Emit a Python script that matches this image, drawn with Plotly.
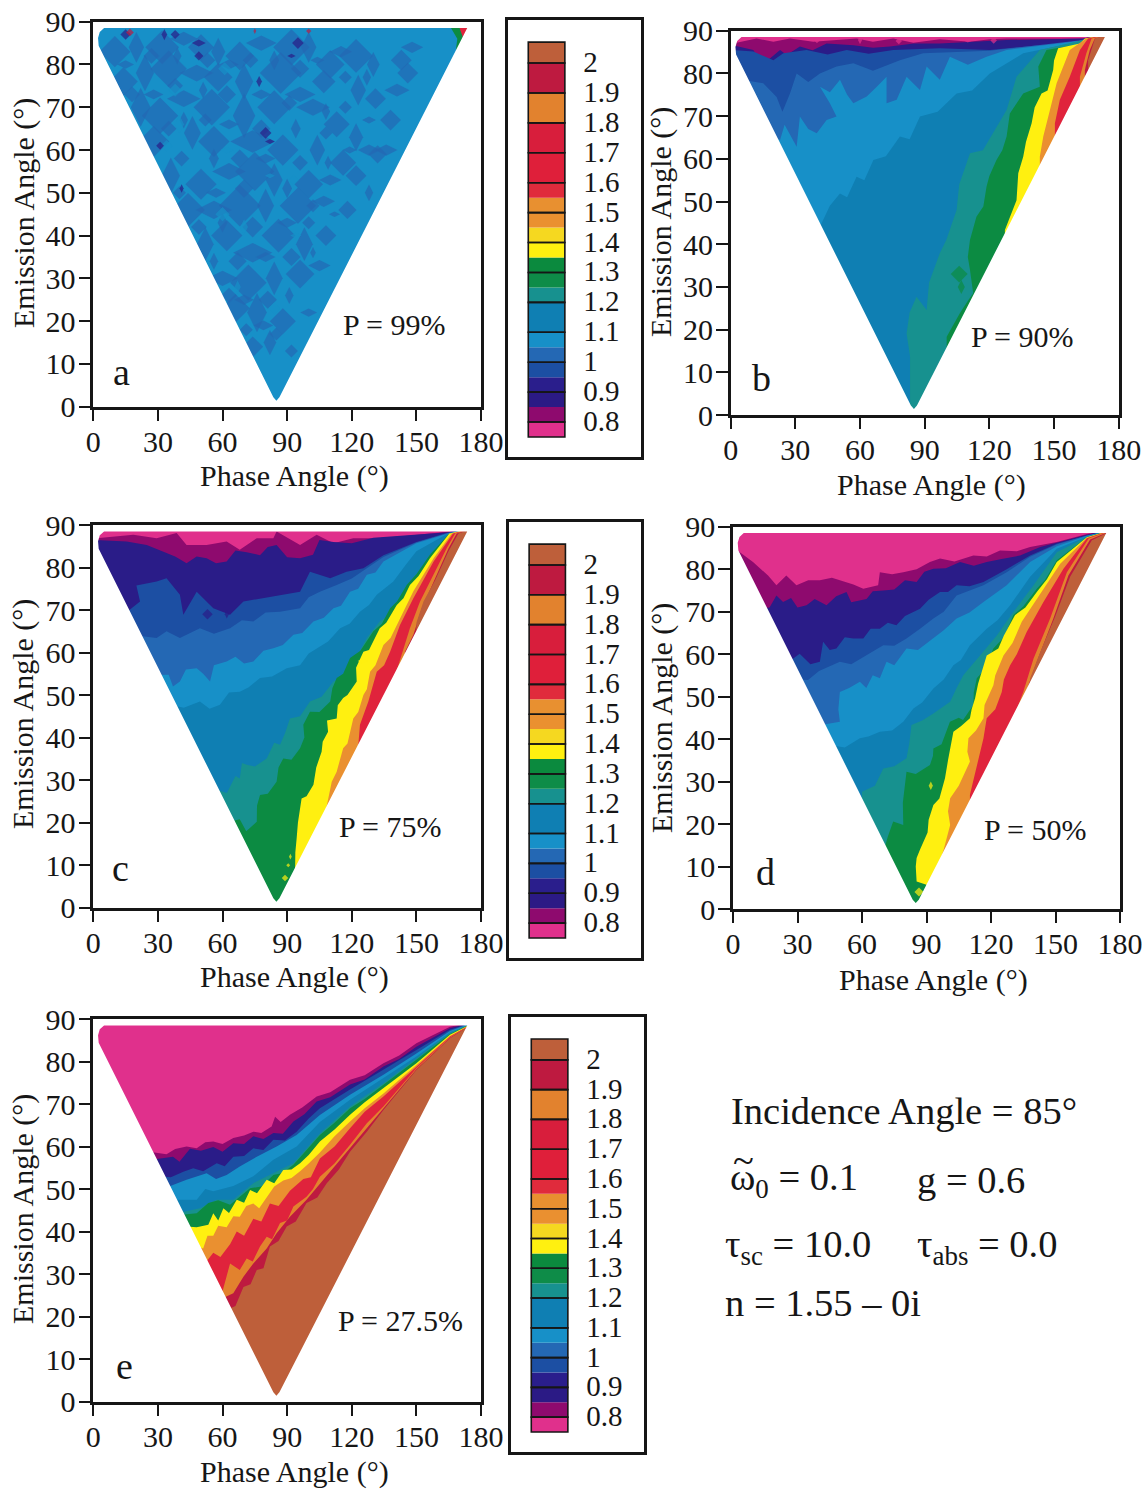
import plotly.graph_objects as go

W, H = 1144, 1489
FONT = "Liberation Serif"
INK = "#161616"

# ---------- colour key ----------
KEY_BOTTOMS = [0.75,0.8,0.85,0.9,0.95,1.0,1.05,1.1,1.2,1.25,1.3,1.35,1.4,1.45,1.5,1.55,1.6,1.7,1.8,1.9,2.0]
KEY_TOPS = [0.8,0.85,0.9,0.95,1.0,1.05,1.1,1.2,1.25,1.3,1.35,1.4,1.45,1.5,1.55,1.6,1.7,1.8,1.9,2.0,2.07]
KEY_COLOURS = ["#E0308C","#8E0A6E","#2B1A85","#2A1E8C","#1C4FA3","#2468B4","#1790C8","#0F7FB3","#17918F",
               "#0E8C48","#0B8A3E","#FFF010","#F5D820","#EA9030","#E89030","#E02B3C","#DF1F3A","#D81E3C",
               "#E2822E","#BE1A40","#BE5F3A"]
KEY_GROUP_EDGES = [0.75,0.8,0.9,1.0,1.1,1.2,1.3,1.4,1.5,1.6,1.7,1.8,1.9,2.0,2.07]
KEY_LABEL_VALUES = [0.8,0.9,1.0,1.1,1.2,1.3,1.4,1.5,1.6,1.7,1.8,1.9,2.0]
KEY_LABELS = ["0.8","0.9","1","1.1","1.2","1.3","1.4","1.5","1.6","1.7","1.8","1.9","2"]

COL = dict(magenta="#E0308C", purple="#8E0A6E", navy="#2A1C88", deep="#1C4FA3", blue="#2468B4", bright="#1790C8",
           mid="#0F7FB3", teal="#17918F", green="#0C8B42", yellow="#FFF010", gold="#F5D820", orange="#EA9030",
           red="#E0233C", orange2="#E2822E", crimson="#BE1A40", brown="#BE5F3A")

X_TICKS = [0,30,60,90,120,150,180]
Y_TICKS = [0,10,20,30,40,50,60,70,80,90]

# outline of the measured region (phase, emission)
TRI_PHASE = [85,83.6,2.5,2.2,3,5,173.6,86.4,85]
TRI_EMIS = [1.4,2.2,84.4,86.2,87.6,88.5,88.5,2.2,1.4]

# ---------- panel a: P = 99% ----------
A_BANDS = [
 ("green",[(168.5,84),(169,86),(166,88.6)]),
 ("red",[(171.5,86.5),(170,88.6)]),
]
A_BLUE_BLOBS = [
 (10,83,24),(20,84,22),(32,84,26),(42,86,20),(50,84,20),(58,83,20),(68,82,22),(78,85,22),(92,84,28),(100,84,22),
 (110,80,22),(115,83,16),(122,82,26),(130,80,18),(143,81,16),(148,84,16),
 (14,76,22),(24,78,26),(35,79,28),(48,78,24),(58,77,22),(70,76,26),(87,78,32),(96,73,22),(107,76,18),(123,74,22),
 (131,72,16),(141,74,18),(146,78,16),
 (22,70,28),(31,68,28),(42,72,24),(55,70,28),(70,68,32),(84,70,26),(102,70,24),(113,66,20),(122,63,20),(138,67,16),(136,60,16),
 (28,62,24),(46,64,24),(56,62,24),(74,62,32),(88,60,24),(104,60,22),(116,57,20),(128,60,16),(132,59,14),
 (36,54,26),(50,52,24),(63,55,24),(75,55,30),(84,53,24),(100,52,22),(110,53,16),(122,54,16),(128,50,12),
 (44,46,26),(56,46,26),(68,47,32),(80,47,24),(95,47,28),(107,48,16),(118,46,14),
 (52,38,24),(62,40,24),(74,36,28),(86,40,26),(98,38,24),(108,40,16),
 (60,30,22),(72,29,28),(84,30,24),(96,31,22),(105,33,16),
 (66,23,22),(76,22,28),(88,20,20),(100,22,12),
 (74,14,16),(82,15,18),(92,13,10),
 # finer mottling that roughens the larger patches
 (15,80,12),(27,82,12),(39,82,12),(53,81,12),(63,80,14),(73,81,12),(84,81,14),(96,79,14),(104,81,10),(117,77,10),(127,77,12),
 (18,73,12),(28,73,14),(38,75,12),(51,74,12),(62,73,14),(78,73,14),(91,71,12),(108,69,12),(117,70,10),(128,67,10),
 (35,65,12),(42,67,12),(52,67,10),(63,66,14),(78,65,14),(94,65,14),(108,64,10),(119,60,10),
 (41,58,12),(56,58,14),(68,58,14),(80,58,14),(96,57,12),(109,57,10),
 (40,50,10),(57,50,14),(70,51,14),(90,51,14),(102,47,10),(112,45,8),
 (49,42,12),(60,43,14),(74,42,16),(90,43,14),(100,43,10),
 (56,34,12),(67,34,14),(80,35,14),(92,35,14),(102,36,8),
 (63,26,12),(70,25,14),(81,25,14),(91,26,12),
 (71,18,10),(79,19,14),(85,17,10),
]
A_BRIGHT_BLOBS = [(38,74,10),(40,66,13),(34,61,9),(62,60,9),(60,45,11),(70,42,11),(61,79,10),(82,54,7),(93,53,8),(67,28,9),(84,23,9),(94,40,8)]
A_NAVY_BLOBS = [(15,87,8),(33,87,8),(38,87,7),(49,85,10),(49,82,7),(77,76,8),(80,64,9),(82,62,7),(31,61,6),(41,51,6),(95,85,9),(92,82,6)]
A_CRIMSON_BLOBS = [(17,87.5,6),(75,87.8,4),(100,87.8,4)]

# ---------- panel b: P = 90% ----------
B_BANDS = [
 ("purple",[(1,87),(12,88.2),(19.8,87.4),(27.5,88.2),(38.3,87.4),(50.7,87.8),(58.4,88.2),(66,87.4),(75.4,88.2),(84.7,87.2),(97,88),(111,87.4),(120,88),(128,88.2),(163.5,88.2)]),
 ("navy",[(1,86.6),(10.5,85.5),(14,82.6),(18.2,83.5),(22.9,85.5),(26,84.3),(32.1,86.3),(38,85.4),(44.5,87),(56.9,86.6),(66,86),(73.9,86.3),(85,87),(97,87),(128,87.8),(163.5,88.2)]),
 ("deep",[(1,85.5),(10.5,85.1),(19.8,83.1),(24.4,84.7),(35.2,85.5),(45,84.4),(53.8,85.5),(64,84.6),(75.4,85.5),(97,85.9),(120.2,85.5),(143.4,86.6),(158.9,87),(163.5,88)]),
 ("blue",[(5,78.5),(15.1,77.7),(21.3,74.5),(24,71),(27.5,75.3),(30.6,80),(36,78),(41.4,80),(49.1,81.6),(56.9,82.4),(66,80.6),(78.5,83.1),(89.3,84.7),(120.2,85.3),(163.5,87.8)]),
 ("bright",[(17,66),(22.9,64.4),(25,68),(30.6,62.8),(32.1,69.9),(36,67),(39.9,66),(44.5,69.1),(49.1,69.9),(46,73),(41.4,76.9),(46,75.6),(50.7,78.5),(54,75),(56.9,73),(63.1,74.6),(68,77),(72.3,79.2),(72.3,73),(77,73.8),(81.6,79.2),(87.8,76.1),(90.9,81.6),(97,78.5),(101.7,83.9),(110,82),(118.7,83.9),(128,85.5),(163.5,87.7)]),
 ("mid",[(38,45),(41.4,44.1),(46,49),(50.7,51.9),(54,51),(58.4,55.8),(62,55),(66.2,59.7),(72,60.6),(78.5,65.2),(83,64.6),(87.8,69.9),(96,71),(104.8,75.3),(112,76),(120.2,80),(135.7,84.7),(163.5,87.6)]),
 ("teal",[(83.2,1),(83.2,13.7),(81.6,19.1),(83,24),(86.2,27.7),(90.9,24.6),(92,31),(97,37.9),(100,41),(104.8,48),(106,54),(111,61.3),(117,62),(123.3,67.5),(128,71.4),(132.6,79.2),(143.4,85.5),(163.5,87.8)]),
 ("green",[(100.2,18.3),(106.3,23.8),(110.2,26.9),(112.5,28.5),(111,34),(110,37),(111,41),(114,46.4),(117.2,48.8),(118.7,53.5),(120,56),(123.3,59.7),(126,62),(128,65.2),(129.5,70.6),(135.7,75.3),(143.4,76.9),(142.7,81.6),(146.5,85.5),(163.5,87)]),
 ("yellow",[(127.2,43.3),(129.5,46.4),(132.6,50.3),(133.4,56.6),(135.7,60.5),(137,64),(139.6,68.3),(141,72),(144.2,75.3),(147,76),(149.6,80.8),(150,83),(151.9,85.9),(162,87),(164.3,88.2)]),
 ("orange",[(143.4,60.5),(145,65.2),(148.1,71.4),(151.2,77.7),(157.3,85.5),(165,88.2)]),
 ("red",[(150.4,68.3),(152.7,73.8),(157.3,79.2),(162,85.5),(165.8,88.2)]),
 ("orange2",[(162,79.2),(165,84.7),(167.4,88.2)]),
 ("crimson",[(164.3,80.8),(166.6,85.5),(168.9,88.2)]),
 ("brown",[(165.8,83.1),(169,88.2)]),
]
B_GREEN_BLOBS = [(106,33,13),(107,30,10)]
B_MAGENTA_BLOBS = [(40,87.8,5),(60,87.8,6),(78,87.6,5),(110,87.7,6),(122,87.7,5)]

# ---------- panel c: P = 75% ----------
C_BANDS = [
 ("purple",[(1.5,86.9),(10.8,87.3),(18.6,87.7),(29.4,86.9),(38.7,88.1),(43.3,85.3),(52.6,85.3),(61.9,86.1),(68,84.2),(75.9,86.9),(83.6,86.9),(85.1,88.5),(96,85.3),(103.7,87.7),(111.5,85.7),(120.7,86.9),(131.6,86.9),(142.4,87.3),(158,88.1),(165.6,88.5)]),
 ("navy",[(1,86.5),(15.5,86.1),(24.8,85.3),(34,83.4),(38,82.6),(43.3,81),(48,82.6),(52.6,82.2),(57,81),(61.9,81.4),(66,84),(71.2,83.6),(77.4,82.9),(81,84.8),(85.1,85.3),(90,82.4),(96,82.2),(102,83),(105,86.5),(111.5,86),(120,85.7),(130,87),(158,88),(165,88.3)]),
 ("deep",[(15,69.3),(21.7,72),(20,75.8),(29.4,76.7),(34,77.5),(40.2,73.6),(41.8,68.9),(48,74.3),(55.7,70.4),(63.5,68.9),(69.7,72),(79,72.8),(86.7,73.6),(96,74.3),(100.6,79),(110,77.5),(117.6,79),(125.4,79.8),(134.7,82.9),(150,86),(164,88.1)]),
 ("blue",[(20,64),(29.4,63.4),(34,65),(40.2,63.4),(49.5,65.7),(56,64.4),(63.5,65.7),(69,67.6),(74.3,67.3),(80,69.4),(86.7,69.6),(96,70.4),(100,73),(105.2,74.3),(113,75.9),(120,77.4),(127,79.8),(134.7,82.5),(150,85.9),(164,88)]),
 ("bright",[(29,54.7),(35,54.8),(37,52),(40.2,53.2),(43,56),(48,56.3),(51,55),(54.2,53.2),(56,57),(61.9,57.9),(66,59),(70,57.4),(74.3,57.9),(79,60.4),(83.6,61),(88,61.8),(92.9,64.2),(97,64.6),(102.2,67.3),(107,68.2),(111.5,70.4),(115,71),(119.2,74.3),(123,75),(127,78.3),(131,78.8),(134.7,81.4),(150,85.7),(164,87.9)]),
 ("mid",[(36,47.7),(42,47),(49.5,48.5),(54,46.8),(58.8,47.7),(63,50.6),(68,50.8),(72,51.8),(77.4,54),(83,54.4),(89.8,56.3),(96,57),(100,59.8),(103.7,61),(109,62.6),(114.6,65.7),(119,66.8),(123.8,69.6),(128,71.2),(131.6,73.6),(139.3,76.7),(145,80.6),(150,83.8),(164,87.8)]),
 ("teal",[(55,28.1),(62,27),(66,31),(68,30.4),(69,34),(71.2,33.6),(75,33.2),(80.5,35.1),(84,38.8),(86.7,38.3),(89,41),(91.3,44.5),(96,45),(100.6,48.5),(106,49.6),(111.5,53.2),(115,54),(119.2,57.9),(123,59.6),(127,63.4),(133,67.3),(138,69),(142.4,72.8),(148,76.4),(154.8,81.4),(164.9,87.8)]),
 ("green",[(63,20.2),(68,20.8),(71,18),(75.9,20.2),(76,24),(77.4,26.5),(81,26.8),(85.1,29.6),(86,33),(88.2,35.1),(92,34.8),(96,37.5),(98,40),(97.5,43),(100.6,46.1),(105,46),(110,48.5),(111,51.6),(113,54),(116,55),(119.2,58.7),(124,60.4),(130,65),(134,66.8),(137.8,70.4),(141,72),(145.5,75.9),(150,78.4),(156.3,83),(164.9,87.8)]),
 ("yellow",[(93.7,9.3),(93.8,13),(94.4,16.3),(95,20),(96.7,25.7),(99,26.2),(102.2,28.9),(103.5,33),(106,36.7),(106.5,39),(109,41.4),(108.5,44),(113,44.5),(113.5,47.6),(116,49.3),(118,50),(122.3,53.2),(122,56.4),(125.4,60.2),(128,60.6),(133,65.7),(136,67),(140.9,71.2),(144,72.8),(147,75.9),(151,78),(156.3,82.2),(165.3,88)]),
 ("orange",[(108,23),(110.7,29.6),(113,32),(116,37.5),(118,38.6),(120.7,44.5),(123,46),(125.4,50),(127,51.4),(128.5,55.5),(131,57),(134.7,61.8),(138,63.4),(142.4,68),(148.6,74.4),(158,82.2),(166.4,88)]),
 ("red",[(123,38),(123.8,43),(127.7,48.5),(129,51),(131.6,55.5),(135,57),(137.8,60.2),(142.4,66.5),(148.6,72.8),(158,81.4),(167,88)]),
 ("orange2",[(141,56),(147,65.7),(151.7,72),(158,78.3),(164,84.5),(168,88)]),
 ("crimson",[(144.7,60.2),(148.6,64.2),(152.5,70.4),(158.7,77.5),(164.9,84.5),(168.7,88)]),
 ("brown",[(150,67),(153.3,72),(158.7,77),(164.9,83.8),(169.5,88)]),
]
C_YELLOW_BLOBS = [(89,7,5),(91.5,12,4),(90.5,10,3),(125,58,7)]
C_NAVY_BLOBS = [(53,69,8),(62,69,6)]

# ---------- panel d: P = 50% ----------
D_BANDS = [
 ("purple",[(1,84.8),(9.3,81.7),(16.3,78.5),(20.2,76.2),(24.8,78.5),(29.5,76.2),(35,77.4),(40.4,77.4),(46,78),(52.8,77),(56,76.4),(60.6,75.4),(67.5,76.2),(68.3,79.3),(74,78.8),(79.2,79.3),(85.4,80),(91.6,81.7),(96.3,82.5),(103,81.8),(111.8,83.2),(118,83),(124.2,84.4),(132,84.2),(138.2,85.2),(150.6,86.4),(164.6,88.3)]),
 ("navy",[(13,70.7),(17,71),(20.2,73.8),(23.3,72.3),(27,73.2),(30,71),(34.2,71.5),(38,73),(43.5,71.5),(48,73.6),(52.8,74.6),(55,72.2),(62.1,73),(65,74.8),(69.9,75),(75,75.2),(80,77.4),(85.4,77),(89,79.4),(93.2,80.1),(99,80.2),(105.6,81.7),(112,80.8),(118,81.7),(125,82.4),(133.5,83.2),(142.9,85.2),(164.6,88.1)]),
 ("deep",[(26,58.2),(31,60.1),(36,57.6),(40.4,58.2),(41.9,62.9),(45,61),(48.1,61.3),(52,64),(55.9,63.7),(60.6,63.7),(64,66),(68.3,66),(72,67.4),(76,66.8),(80,69),(87,70.7),(91,72.8),(96.3,74.6),(100,74.6),(104,76.2),(110,76),(116.5,77),(127.3,80),(138.2,83.2),(150.6,86),(164.6,87.9)]),
 ("blue",[(30,54),(34.9,53.9),(40,56),(49.7,58.2),(55,57.6),(62.1,59.7),(69.9,62.1),(75,62),(80.7,63.7),(87,66),(93.2,68.4),(98,70),(104,73.8),(116.5,76.2),(127.3,79.3),(138.2,82.9),(150.6,85.8),(164.6,87.9)]),
 ("bright",[(41,43.3),(49.7,44.1),(49,47),(49.7,51.1),(54,52),(59,53.5),(62,52),(65,55),(68.3,54.3),(71.4,58.2),(75,57.4),(80.7,61.3),(86,61),(93.2,63.7),(98,65.6),(104,68.4),(110,69.8),(116.5,72.3),(127.3,76.2),(138.2,81.7),(150.6,85.4),(164.6,87.8)]),
 ("mid",[(45,38.6),(52,38),(59,40.2),(63,40.6),(68.3,41.7),(74,42),(79.2,44.1),(83.9,47.2),(88,48.6),(93.2,51.9),(98,54),(102.5,57.4),(106,58.6),(110.2,62.1),(118,66),(123,68),(128.9,71.5),(138.2,78.2),(150.6,84.8),(164.6,87.7)]),
 ("teal",[(60,27.6),(66,29),(69.9,33.1),(75,33.6),(80.7,35.5),(82,39),(83,43.3),(88,44.4),(93.2,46),(101,48.8),(104,52),(107.1,55),(114.9,59.7),(122.7,64.4),(130.4,69.9),(139.8,76.2),(150.6,84),(164.6,87.6)]),
 ("green",[(70,13.5),(72,17),(74.5,20.6),(79.2,19.8),(79,25),(80.7,32.3),(85,31.8),(91.6,33.9),(93,36),(93.2,37.8),(97,38.8),(100.9,44.1),(105,45),(107,44.5),(111.8,48),(112,51),(113.4,54.3),(117,56.4),(121.1,61.3),(126,64),(130.4,69.2),(135,71.2),(141.3,75.4),(145,77.4),(150.6,82.1),(164.6,87.5)]),
 ("yellow",[(90,5.7),(85.4,6.5),(85,10),(85.4,12),(87,14),(88.5,15.9),(90.5,18),(91,21),(93.2,24.5),(96,26),(98.6,30.8),(100,35),(102.5,41.7),(106,43),(110.2,44.9),(111,47),(112.6,49.6),(114,53),(118,59.7),(123.4,61.3),(126,64.4),(131.2,69.2),(136,71),(141.3,74.6),(146,77.6),(150.6,81.7),(164.6,87.5)]),
 ("orange",[(94.7,8.8),(98,14),(101,19.8),(100,23),(101,26.1),(105,29),(110.2,34.7),(109,37),(109.5,40.2),(113,42),(116.5,44.9),(117,48),(121.1,52.7),(122,55),(125.8,59.7),(130,62.6),(134.3,67.6),(142.9,74.2),(152.2,81.3),(164.6,87.4)]),
 ("red",[(110.2,26.9),(113.4,33.9),(116.5,40.2),(118,44.9),(122,47),(125,51.1),(126,54),(128.9,57.4),(132,60),(136.6,65.2),(144.4,72.3),(153.7,80.1),(164.6,87.3)]),
 ("orange2",[(130.4,44.9),(135,51.1),(139.8,59),(147.5,68.4),(155.3,79.3),(165.4,87.2)]),
 ("crimson",[(133.5,47.2),(137.4,52.7),(141.3,58.2),(149,68.4),(156,78.5),(166.1,87)]),
 ("brown",[(138.2,54.3),(142.9,60.5),(149.8,68.8),(156.8,78.2),(166.9,86.8)]),
]
D_YELLOW_BLOBS = [(86.5,4,7),(92,29,6)]

# ---------- panel e: P = 27.5% ----------
E_BANDS = [
 ("purple",[(26,58.8),(34,58.2),(38,59.4),(43.3,60),(48,59.6),(52,61),(55.7,61.2),(60,60.6),(65,62),(70,62.6),(74.3,63.5),(78,63.2),(82.8,64.7),(84.4,67),(87,65.8),(91.3,67.5),(97,69.2),(103.7,71.8),(110,72.8),(119.2,75.7),(126,76.8),(134.7,79.6),(142,81.4),(150,84.3),(165.6,88.2)]),
 ("navy",[(27,56.9),(37,57.6),(40,56.4),(44.9,59.5),(50,59),(55.7,59.9),(60,58.8),(65,60.8),(70,60.6),(74.3,62.4),(79,61.8),(83.6,63.2),(88,63),(92.9,65.9),(98,67.6),(103.7,70.6),(110,71.6),(119.2,74.6),(126,75.8),(134.7,78.8),(142,80.6),(150,83.5),(165.6,87.8)]),
 ("deep",[(30,53),(36,52.8),(41.8,54.1),(46.4,54.9),(51,54.2),(57.3,56.1),(61,55.4),(65,57.6),(70,57.8),(74.3,59.6),(79,59.2),(83.6,61.6),(89,61.4),(94.4,63.5),(100,66.6),(105.2,69),(119.2,73.4),(134.7,78),(150,82.7),(165.6,87.5)]),
 ("bright",[(33,50.2),(43.3,52.2),(52.6,53.7),(57,52.4),(61.9,53.3),(68,55.3),(75.9,57.6),(85.1,60),(94.4,62.7),(105.2,67.4),(119.2,72.2),(134.7,76.9),(150,81.9),(165.6,87.2)]),
 ("mid",[(36,47.5),(48,47.5),(52,50),(55.7,49.5),(65,50.7),(74.3,53),(83.6,56.9),(94.4,60),(105.2,65.8),(119.2,71),(134.7,76.1),(150,81.2),(165.6,86.9)]),
 ("teal",[(39,44.3),(49.5,45.5),(57.3,47.5),(65,47.5),(74.3,51.4),(83.6,53.7),(92.9,56.1),(105.2,63.1),(119.2,69.4),(134.7,74.9),(150,80.8),(165.6,86.7)]),
 ("green",[(40,43.9),(48,44.3),(53.4,46.7),(58,47.4),(63.5,46.3),(68,48.2),(72.8,50.2),(78,50.6),(83.6,53.3),(88,53.8),(92.9,55.7),(98,58.6),(105.2,62.7),(112,65.6),(119.2,69),(126,71.2),(134.7,74.5),(142,77.4),(150,80.4),(165.6,86.5)]),
 ("yellow",[(43,41.2),(48,41),(53.4,41.6),(55.7,44.3),(58,42.6),(60.4,45.5),(63,44.4),(66.6,47.5),(70,46.8),(72.8,49.8),(76,49),(80.5,52.2),(84,51.4),(88.2,54.5),(92,54.6),(96,56.1),(100,58),(105.2,61.2),(112,64),(119.2,67.5),(126,70.4),(134.7,73.7),(142,76.6),(150,79.6),(165.6,86.3)]),
 ("orange",[(46,37),(51,36),(53,39),(55.7,39),(58,41.4),(61.9,41),(65,43.6),(68,43.5),(71,46),(74.3,46.6),(77,45.5),(80.5,48),(84,50.6),(88.2,52),(92,52.6),(96,54.2),(100,56),(105.2,58.6),(112,62.4),(119.2,65.9),(126,69),(134.7,72.5),(150,79.2),(165.6,86)]),
 ("red",[(49,33.6),(52,32.6),(55.7,35),(59,34),(63.5,37),(66.6,40),(70,39),(74.3,43),(78,42.4),(82,46.6),(86,46),(91.3,49.6),(97.5,52.4),(101,52.8),(105.2,57.2),(112,60),(119.2,64.3),(126,68.2),(134.7,71.8),(150,78.8),(165.6,85.9)]),
 ("orange2",[(56,27.8),(60,26),(63.5,32.5),(68,31),(71.2,33.7),(74,33),(77.4,36.5),(80.5,38.8),(83,38.2),(86.7,42),(90,42.6),(92.9,45.9),(99,48.2),(102,50),(105.2,52.9),(112,56),(119.2,60.4),(127,65.5),(134.7,69.4),(150,78.4),(165.6,85.7)]),
 ("crimson",[(60,24.3),(65,25.5),(69.7,29.4),(74.3,32.5),(80.5,36),(85.1,39.6),(91.3,43.5),(99,47.5),(106.8,52.2),(119.2,59.6),(127,64.3),(134.7,69),(150,78.2),(165.6,85.6)]),
 ("brown",[(62,21.6),(66,22.5),(69.7,27),(73,27.6),(75.9,31),(79,31.4),(82,36.5),(86,37.8),(89.8,41.2),(94,42.4),(99,46.7),(104,48),(108.4,51.4),(114,54.6),(119.2,58.8),(127,63.5),(134.7,68.6),(150,78),(165.6,85.5)]),
]

# panel frames in page pixels: left, right, top, bottom
FRAMES = dict(a=(93.3,481,21.7,406.7), b=(730.7,1118.7,30.7,415), c=(93.3,481,525,907.7),
              d=(733,1120,526.7,909), e=(93.3,481,1019,1401.7))
KEY_FRAMES = dict(a=(508,641,20,457), c=(509,641,522,958), e=(511,644,1017,1452))
P_LABELS = dict(a=("P = 99%",139.8,19.3), b=("P = 90%",135,18.5), c=("P = 75%",137.8,19),
                d=("P = 50%",140.5,18.6), e=("P = 27.5%",142.5,19.2))
LETTERS = dict(a=(13.3,8), b=(14.5,8.6), c=(12.4,9.4), d=(14.9,8.7), e=(14.3,8.4))
X_TITLE_AT = dict(a=(294,476), b=(931,485), c=(294,977), d=(933,980), e=(294,1472))
Y_TITLE_AT = dict(a=(24,213), b=(661,222), c=(23,714), d=(662,718), e=(23,1209))

BANDS = dict(a=A_BANDS, b=B_BANDS, c=C_BANDS, d=D_BANDS, e=E_BANDS)
BASE = dict(a="bright", b="magenta", c="magenta", d="magenta", e="magenta")
BLOBS = dict(
    a=[("blue",A_BLUE_BLOBS),("bright",A_BRIGHT_BLOBS),("navy",A_NAVY_BLOBS),("crimson",A_CRIMSON_BLOBS)],
    b=[("green",B_GREEN_BLOBS),("magenta",B_MAGENTA_BLOBS)],
    c=[("yellow",C_YELLOW_BLOBS),("navy",C_NAVY_BLOBS)],
    d=[("yellow",D_YELLOW_BLOBS)],
    e=[],
)
BLOB_SYMBOLS = ["diamond","diamond-tall","diamond","diamond-wide"]

fig = go.Figure()
layout = dict(width=W, height=H, margin=dict(l=0,r=0,t=0,b=0,autoexpand=False), paper_bgcolor="white", plot_bgcolor="white",
              showlegend=False, barmode="overlay", annotations=[], font=dict(family=FONT, color=INK))


def dom_x(a, b):
    return [a / W, b / W]


def dom_y(top, bottom):
    return [1 - bottom / H, 1 - top / H]


def poly(x, y, colour, ax):
    return go.Scatter(x=x, y=y, mode="lines", fill="toself", fillcolor=colour, line=dict(width=0),
                      hoverinfo="skip", xaxis=ax[0], yaxis=ax[1])


n = 0
for key, (l, r, t, b) in FRAMES.items():
    n += 1
    ax = (f"x{n}", f"y{n}")
    fig.add_trace(poly([1,178,178,1], [0.5,0.5,89.5,89.5], COL[BASE[key]], ax))
    for colour, pts in BANDS[key]:
        xs = [p[0] for p in pts]
        ys = [p[1] for p in pts]
        fig.add_trace(poly(xs + [178,178,xs[0]], ys + [89.5,0.5,0.5], COL[colour], ax))
    for colour, items in BLOBS[key]:
        fig.add_trace(go.Scatter(x=[i[0] for i in items], y=[i[1] for i in items], mode="markers",
                                 marker=dict(symbol=[BLOB_SYMBOLS[j % 4] for j in range(len(items))], color=COL[colour],
                                             size=[i[2] for i in items], line=dict(width=0)),
                                 hoverinfo="skip", xaxis=ax[0], yaxis=ax[1]))
    # white surround leaves only the measured region visible
    fig.add_trace(poly([-2,85]+TRI_PHASE+[85,182,182,-2], [-2,-2]+TRI_EMIS+[-2,-2,92,92], "white", ax))
    layout[f"xaxis{n}"] = dict(domain=dom_x(l, r), range=[0,180], anchor=f"y{n}", tickmode="array", tickvals=X_TICKS,
                               automargin=False, ticks="outside", ticklen=11, tickwidth=1.6, tickcolor=INK, showgrid=False, zeroline=False,
                               showline=True, mirror=True, linewidth=2.6, linecolor=INK, tickangle=0, ticklabeloverflow="allow",
                               ticklabelstandoff=-5, tickfont=dict(family=FONT, size=30, color=INK))
    layout[f"yaxis{n}"] = dict(domain=dom_y(t, b), range=[0,90], anchor=f"x{n}", tickmode="array", tickvals=Y_TICKS,
                               automargin=False, ticks="outside", ticklen=12, tickwidth=1.6, tickcolor=INK, showgrid=False, zeroline=False,
                               showline=True, mirror=True, linewidth=2.6, linecolor=INK,
                               ticklabelstandoff=-3, tickfont=dict(family=FONT, size=30, color=INK))
    tx, ty = X_TITLE_AT[key]
    layout["annotations"].append(dict(text="Phase Angle (°)", x=tx/W, y=1-ty/H, xref="paper", yref="paper", showarrow=False,
                                      xanchor="center", yanchor="middle", font=dict(family=FONT, size=30, color=INK)))
    tx, ty = Y_TITLE_AT[key]
    layout["annotations"].append(dict(text="Emission Angle (°)", x=tx/W, y=1-ty/H, xref="paper", yref="paper", showarrow=False,
                                      xanchor="center", yanchor="middle", textangle=-90, font=dict(family=FONT, size=30, color=INK)))
    txt, px, py = P_LABELS[key]
    layout["annotations"].append(dict(text=txt, x=px, y=py, xref=ax[0], yref=ax[1], showarrow=False,
                                      font=dict(family=FONT, size=30, color=INK)))
    lx, ly = LETTERS[key]
    layout["annotations"].append(dict(text=key, x=lx, y=ly, xref=ax[0], yref=ax[1], showarrow=False,
                                      font=dict(family=FONT, size=38, color=INK)))

for key, (l, r, t, b) in KEY_FRAMES.items():
    n += 1
    ax = (f"x{n}", f"y{n}")
    heights = [hi - lo for lo, hi in zip(KEY_BOTTOMS, KEY_TOPS)]
    fig.add_trace(go.Bar(x=[0.29]*len(heights), y=heights, base=KEY_BOTTOMS, width=0.275,
                         marker=dict(color=KEY_COLOURS, line=dict(width=0)), hoverinfo="skip", xaxis=ax[0], yaxis=ax[1]))
    gh = [hi - lo for lo, hi in zip(KEY_GROUP_EDGES[:-1], KEY_GROUP_EDGES[1:])]
    fig.add_trace(go.Bar(x=[0.29]*len(gh), y=gh, base=KEY_GROUP_EDGES[:-1], width=0.275,
                         marker=dict(color="rgba(0,0,0,0)", line=dict(width=1.6, color=INK)), hoverinfo="skip", xaxis=ax[0], yaxis=ax[1]))
    fig.add_trace(go.Scatter(x=[0.565]*len(KEY_LABELS), y=[v - 0.006 for v in KEY_LABEL_VALUES], text=KEY_LABELS, mode="text",
                             textposition="middle right", textfont=dict(family=FONT, size=29, color=INK),
                             hoverinfo="skip", xaxis=ax[0], yaxis=ax[1]))
    layout[f"xaxis{n}"] = dict(domain=dom_x(l, r), range=[0,1], anchor=f"y{n}", automargin=False, showticklabels=False, ticks="", showgrid=False,
                               zeroline=False, showline=True, mirror=True, linewidth=2.6, linecolor=INK)
    layout[f"yaxis{n}"] = dict(domain=dom_y(t, b), range=[0.683,2.144], anchor=f"x{n}", automargin=False, showticklabels=False, ticks="", showgrid=False,
                               zeroline=False, showline=True, mirror=True, linewidth=2.6, linecolor=INK)

# parameter block
PARAM_TEXT = [("Incidence Angle = 85°",729,1111),("~",731,1160),("ω<sub>0</sub> = 0.1",728,1180),("g = 0.6",915,1180),
              ("τ<sub>sc</sub> = 10.0",723,1247),("τ<sub>abs</sub> = 0.0",915,1247),("n = 1.55 – 0i",723,1303)]
for txt, px, py in PARAM_TEXT:
    layout["annotations"].append(dict(text=txt, x=px/W, y=1-py/H, xref="paper", yref="paper", xanchor="left", yanchor="middle",
                                      showarrow=False, font=dict(family=FONT, size=38.5, color=INK)))

fig.update_layout(**layout)
fig.write_html("out.html", config={"displayModeBar": False},
               post_script="document.body.style.margin='0';document.body.style.overflow='hidden';")
